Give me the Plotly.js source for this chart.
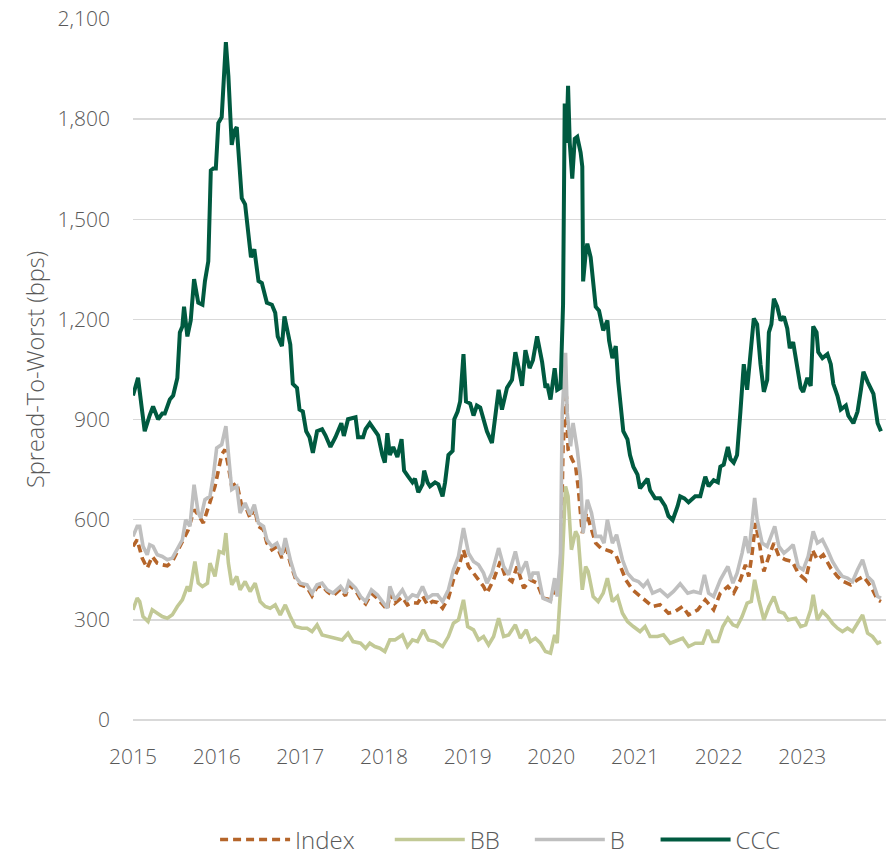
<!DOCTYPE html>
<html>
<head>
<meta charset="utf-8">
<script src="https://cdn.plot.ly/plotly-3.0.1.min.js"></script>
<style>html,body{margin:0;padding:0;background:#fff;}#chart{width:888px;height:857px;}</style>
</head>
<body>
<div id="chart"></div>
<script>
// Year tick labels
const yearTicks = [2015, 2016, 2017, 2018, 2019, 2020, 2021, 2022, 2023];
const yearLabels = ["2015", "2016", "2017", "2018", "2019", "2020", "2021", "2022", "2023"];
const seriesNames = ["Index", "BB", "B", "CCC"];

// Index (bps)
const indexYears = [2015.00,2015.05,2015.11,2015.17,2015.23,2015.29,2015.35,2015.41,2015.47,2015.53,2015.59,2015.66,2015.73,2015.78,2015.84,2015.90,2015.98,2016.06,2016.10,2016.14,2016.18,2016.24,2016.30,2016.36,2016.40,2016.45,2016.50,2016.56,2016.60,2016.66,2016.72,2016.78,2016.82,2016.88,2016.94,2017.00,2017.08,2017.14,2017.20,2017.26,2017.32,2017.39,2017.48,2017.54,2017.58,2017.66,2017.72,2017.78,2017.85,2017.92,2017.98,2018.04,2018.07,2018.13,2018.22,2018.28,2018.34,2018.40,2018.46,2018.52,2018.58,2018.64,2018.70,2018.77,2018.83,2018.89,2018.95,2019.01,2019.07,2019.13,2019.19,2019.23,2019.31,2019.39,2019.45,2019.53,2019.59,2019.67,2019.75,2019.83,2019.90,2019.99,2020.06,2020.11,2020.14,2020.18,2020.20,2020.25,2020.29,2020.32,2020.37,2020.42,2020.47,2020.53,2020.59,2020.65,2020.71,2020.77,2020.83,2020.89,2020.97,2021.04,2021.12,2021.21,2021.30,2021.40,2021.48,2021.57,2021.64,2021.75,2021.84,2021.94,2022.02,2022.11,2022.18,2022.26,2022.32,2022.36,2022.40,2022.44,2022.48,2022.54,2022.60,2022.66,2022.72,2022.80,2022.88,2022.95,2023.04,2023.12,2023.18,2023.25,2023.34,2023.42,2023.49,2023.58,2023.66,2023.73,2023.82,2023.90,2023.94];
const indexValues = [520,540,485,455,490,470,465,462,475,505,540,570,630,615,590,640,700,795,810,760,700,710,640,630,605,635,580,570,530,510,520,485,530,470,425,405,398,372,398,402,385,372,392,372,405,388,362,348,380,365,348,330,380,350,368,345,352,350,372,345,355,352,335,365,420,455,510,460,440,420,400,380,420,475,430,415,460,395,420,410,365,360,400,420,820,970,810,780,760,700,560,620,580,530,515,510,505,495,460,420,390,375,360,340,345,320,325,340,315,330,360,330,380,400,380,420,465,430,500,590,540,445,490,530,490,480,475,440,420,510,480,495,455,430,415,405,420,430,400,360,355];

// BB (bps)
const bbYears = [2015.00,2015.05,2015.08,2015.12,2015.18,2015.23,2015.29,2015.35,2015.41,2015.47,2015.53,2015.59,2015.65,2015.68,2015.74,2015.78,2015.83,2015.89,2015.92,2015.98,2016.03,2016.08,2016.11,2016.14,2016.18,2016.24,2016.28,2016.34,2016.40,2016.46,2016.52,2016.58,2016.64,2016.70,2016.76,2016.82,2016.88,2016.94,2017.02,2017.08,2017.14,2017.20,2017.26,2017.33,2017.42,2017.50,2017.57,2017.63,2017.72,2017.78,2017.83,2017.89,2017.95,2018.01,2018.07,2018.13,2018.22,2018.28,2018.34,2018.40,2018.47,2018.53,2018.61,2018.70,2018.77,2018.83,2018.89,2018.95,2019.00,2019.07,2019.13,2019.19,2019.25,2019.31,2019.37,2019.43,2019.49,2019.57,2019.63,2019.70,2019.75,2019.81,2019.87,2019.93,2019.99,2020.04,2020.07,2020.13,2020.17,2020.20,2020.24,2020.29,2020.32,2020.37,2020.41,2020.44,2020.50,2020.56,2020.62,2020.67,2020.73,2020.79,2020.85,2020.91,2020.98,2021.06,2021.12,2021.18,2021.27,2021.34,2021.42,2021.51,2021.57,2021.64,2021.72,2021.81,2021.87,2021.93,2021.99,2022.05,2022.11,2022.17,2022.22,2022.28,2022.34,2022.39,2022.43,2022.48,2022.54,2022.60,2022.66,2022.72,2022.78,2022.83,2022.92,2022.98,2023.04,2023.10,2023.13,2023.18,2023.24,2023.30,2023.36,2023.42,2023.48,2023.54,2023.60,2023.66,2023.72,2023.78,2023.84,2023.90,2023.94];
const bbValues = [330,365,355,310,295,330,320,310,305,315,340,360,400,385,475,410,400,410,470,430,505,500,560,470,405,430,390,415,385,410,355,340,335,345,315,345,310,280,275,275,265,285,255,250,245,240,260,235,230,215,230,220,215,205,240,240,255,220,240,235,270,240,235,220,250,290,300,360,280,270,240,250,225,250,305,250,255,285,245,270,235,245,230,205,200,255,230,470,700,670,510,565,550,390,460,445,370,355,380,425,355,370,320,295,280,265,280,250,250,255,230,240,245,220,230,230,270,235,235,280,305,285,280,310,350,355,420,360,300,340,370,325,320,300,305,280,285,330,375,300,325,310,290,275,265,275,265,290,315,260,250,230,235];

// B (bps)
const bYears = [2015.00,2015.05,2015.08,2015.12,2015.17,2015.20,2015.24,2015.29,2015.35,2015.41,2015.47,2015.53,2015.59,2015.63,2015.68,2015.73,2015.78,2015.81,2015.86,2015.92,2015.96,2016.00,2016.06,2016.11,2016.14,2016.18,2016.24,2016.28,2016.34,2016.40,2016.45,2016.50,2016.56,2016.60,2016.66,2016.72,2016.78,2016.82,2016.88,2016.94,2017.00,2017.08,2017.14,2017.20,2017.26,2017.32,2017.39,2017.48,2017.54,2017.58,2017.66,2017.72,2017.78,2017.85,2017.92,2017.98,2018.04,2018.07,2018.13,2018.22,2018.28,2018.34,2018.40,2018.46,2018.52,2018.58,2018.64,2018.70,2018.77,2018.83,2018.89,2018.95,2019.01,2019.07,2019.13,2019.19,2019.23,2019.29,2019.37,2019.43,2019.49,2019.57,2019.63,2019.70,2019.75,2019.78,2019.84,2019.90,2019.99,2020.04,2020.07,2020.11,2020.13,2020.17,2020.19,2020.23,2020.26,2020.31,2020.35,2020.38,2020.43,2020.48,2020.53,2020.59,2020.63,2020.67,2020.73,2020.78,2020.85,2020.91,2020.98,2021.04,2021.10,2021.15,2021.21,2021.30,2021.39,2021.46,2021.54,2021.63,2021.70,2021.78,2021.83,2021.88,2021.94,2022.02,2022.11,2022.17,2022.22,2022.28,2022.32,2022.36,2022.40,2022.43,2022.46,2022.52,2022.58,2022.63,2022.67,2022.72,2022.78,2022.83,2022.89,2022.95,2023.01,2023.07,2023.13,2023.18,2023.24,2023.30,2023.36,2023.42,2023.48,2023.54,2023.60,2023.66,2023.72,2023.78,2023.84,2023.90,2023.94];
const bValues = [550,580,580,520,495,525,520,495,490,480,485,510,540,600,580,705,620,605,660,670,730,815,825,880,790,690,700,620,650,615,645,590,580,540,520,530,495,545,480,430,410,405,380,405,410,390,380,400,380,415,395,370,355,390,375,355,335,400,360,390,360,375,370,400,365,375,375,355,390,450,490,575,500,475,465,440,410,440,515,460,435,505,440,475,420,440,440,365,355,425,370,500,920,1100,920,820,890,810,720,560,660,620,550,550,530,600,530,555,480,440,420,415,400,415,380,390,370,385,408,380,385,380,435,380,370,420,460,410,440,500,550,500,590,665,600,530,520,550,580,520,500,510,525,460,450,490,565,530,540,510,475,450,430,425,415,450,480,430,415,370,365];

// CCC (bps)
const cccYears = [2015.00,2015.06,2015.11,2015.14,2015.20,2015.24,2015.30,2015.35,2015.38,2015.44,2015.48,2015.53,2015.56,2015.59,2015.61,2015.65,2015.69,2015.73,2015.78,2015.83,2015.86,2015.90,2015.93,2015.96,2015.99,2016.02,2016.06,2016.11,2016.14,2016.18,2016.21,2016.24,2016.30,2016.34,2016.41,2016.45,2016.50,2016.54,2016.60,2016.66,2016.70,2016.73,2016.78,2016.81,2016.88,2016.91,2016.96,2016.99,2017.03,2017.07,2017.11,2017.15,2017.20,2017.26,2017.30,2017.36,2017.42,2017.49,2017.52,2017.57,2017.66,2017.69,2017.75,2017.78,2017.83,2017.89,2017.93,2017.98,2018.01,2018.04,2018.07,2018.11,2018.16,2018.21,2018.24,2018.29,2018.34,2018.37,2018.41,2018.46,2018.48,2018.52,2018.55,2018.61,2018.65,2018.70,2018.73,2018.77,2018.82,2018.84,2018.88,2018.91,2018.95,2018.98,2019.03,2019.07,2019.11,2019.15,2019.19,2019.23,2019.29,2019.33,2019.37,2019.41,2019.47,2019.53,2019.57,2019.61,2019.65,2019.69,2019.74,2019.78,2019.83,2019.89,2019.93,2019.95,2019.99,2020.04,2020.07,2020.11,2020.14,2020.16,2020.18,2020.20,2020.22,2020.25,2020.28,2020.31,2020.35,2020.37,2020.38,2020.41,2020.43,2020.47,2020.53,2020.57,2020.62,2020.67,2020.69,2020.73,2020.77,2020.80,2020.86,2020.91,2020.94,2020.98,2021.03,2021.06,2021.10,2021.15,2021.18,2021.24,2021.30,2021.36,2021.40,2021.45,2021.51,2021.54,2021.59,2021.64,2021.72,2021.78,2021.84,2021.88,2021.94,2021.99,2022.02,2022.06,2022.11,2022.14,2022.18,2022.22,2022.26,2022.30,2022.34,2022.38,2022.42,2022.46,2022.50,2022.54,2022.58,2022.60,2022.63,2022.66,2022.70,2022.74,2022.78,2022.82,2022.85,2022.89,2022.94,2022.98,2023.01,2023.06,2023.10,2023.13,2023.17,2023.19,2023.24,2023.30,2023.34,2023.37,2023.42,2023.46,2023.52,2023.55,2023.61,2023.66,2023.70,2023.73,2023.78,2023.82,2023.85,2023.90,2023.94];
const cccValues = [972,1025,924,865,913,939,901,918,918,960,972,1025,1161,1179,1238,1149,1197,1321,1250,1244,1315,1374,1646,1652,1652,1788,1806,2031,1930,1723,1764,1776,1563,1545,1386,1410,1315,1309,1250,1244,1220,1149,1120,1209,1125,1007,995,930,924,865,847,800,865,871,853,818,847,889,851,901,907,847,847,871,889,865,853,794,771,859,794,818,788,841,747,729,712,723,682,706,747,712,700,712,706,670,712,794,806,901,924,954,1096,954,948,912,942,936,895,865,830,901,989,930,995,1019,1102,1054,1001,1108,1054,1078,1149,1072,995,1007,960,1054,989,995,1244,1847,1729,1900,1729,1622,1741,1747,1700,1658,1314,1397,1427,1386,1238,1226,1167,1197,1137,1084,1120,1013,865,841,794,759,735,694,706,723,688,664,664,641,611,599,641,670,664,652,670,670,729,700,718,712,759,765,818,782,771,794,924,1066,989,1102,1203,1185,1066,983,1019,1161,1185,1262,1238,1197,1209,1173,1114,1132,1054,995,983,1025,1001,1179,1161,1102,1084,1096,1066,1007,971,930,942,912,889,924,989,1043,1013,989,977,889,865];

const fam = "'Open Sans', 'Noto Sans', sans-serif";
const tickFont = {family: fam, size: 21, color: "#595959", weight: 300};
const legendFont = {family: fam, size: 24, color: "#595959", weight: 300};

const traces = [
  {x: indexYears, y: indexValues, name: seriesNames[0], type: "scatter", mode: "lines", legend: "legend",
   line: {color: "#B5652A", width: 3.6, dash: "8px,5px"}},
  {x: bbYears, y: bbValues, name: seriesNames[1], type: "scatter", mode: "lines", legend: "legend2",
   line: {color: "#C2C996", width: 3.6}},
  {x: bYears, y: bValues, name: seriesNames[2], type: "scatter", mode: "lines", legend: "legend3",
   line: {color: "#BFBFBF", width: 3.6}},
  {x: cccYears, y: cccValues, name: seriesNames[3], type: "scatter", mode: "lines", legend: "legend4",
   line: {color: "#005A40", width: 4}}
];

// one legend box per entry so each can sit at its own horizontal position
function leg(xFrac) {
  return {orientation: "h", x: xFrac, xanchor: "left", y: -0.171, yanchor: "middle",
          font: legendFont, itemwidth: 70, bgcolor: "rgba(0,0,0,0)"};
}

const layout = {
  width: 888, height: 857,
  margin: {l: 133, r: 2, t: 19, b: 137, autoexpand: false},
  paper_bgcolor: "#ffffff", plot_bgcolor: "#ffffff",
  font: tickFont,
  showlegend: true,
  legend: leg(0.109), legend2: leg(0.341), legend3: leg(0.527), legend4: leg(0.694),
  xaxis: {type: "linear", range: [2015, 2024], tickmode: "array", tickvals: yearTicks, ticktext: yearLabels,
          showgrid: false, zeroline: false, showline: false, ticks: "", tickfont: tickFont,
          ticklabelstandoff: 22, fixedrange: true},
  yaxis: {range: [0, 2100], tickmode: "linear", tick0: 0, dtick: 300, tickformat: ",d",
          showgrid: true, gridcolor: "#D9D9D9", gridwidth: 1.5, zeroline: true, zerolinecolor: "#D9D9D9",
          zerolinewidth: 1.5, showline: false, ticks: "", tickfont: tickFont, ticklabelstandoff: 22,
          title: {text: "Spread-To-Worst (bps)", font: {family: fam, size: 23.5, color: "#595959", weight: 300}, standoff: 6},
          fixedrange: true}
};

Plotly.newPlot("chart", traces, layout, {displayModeBar: false, staticPlot: true});
</script>
</body>
</html>
